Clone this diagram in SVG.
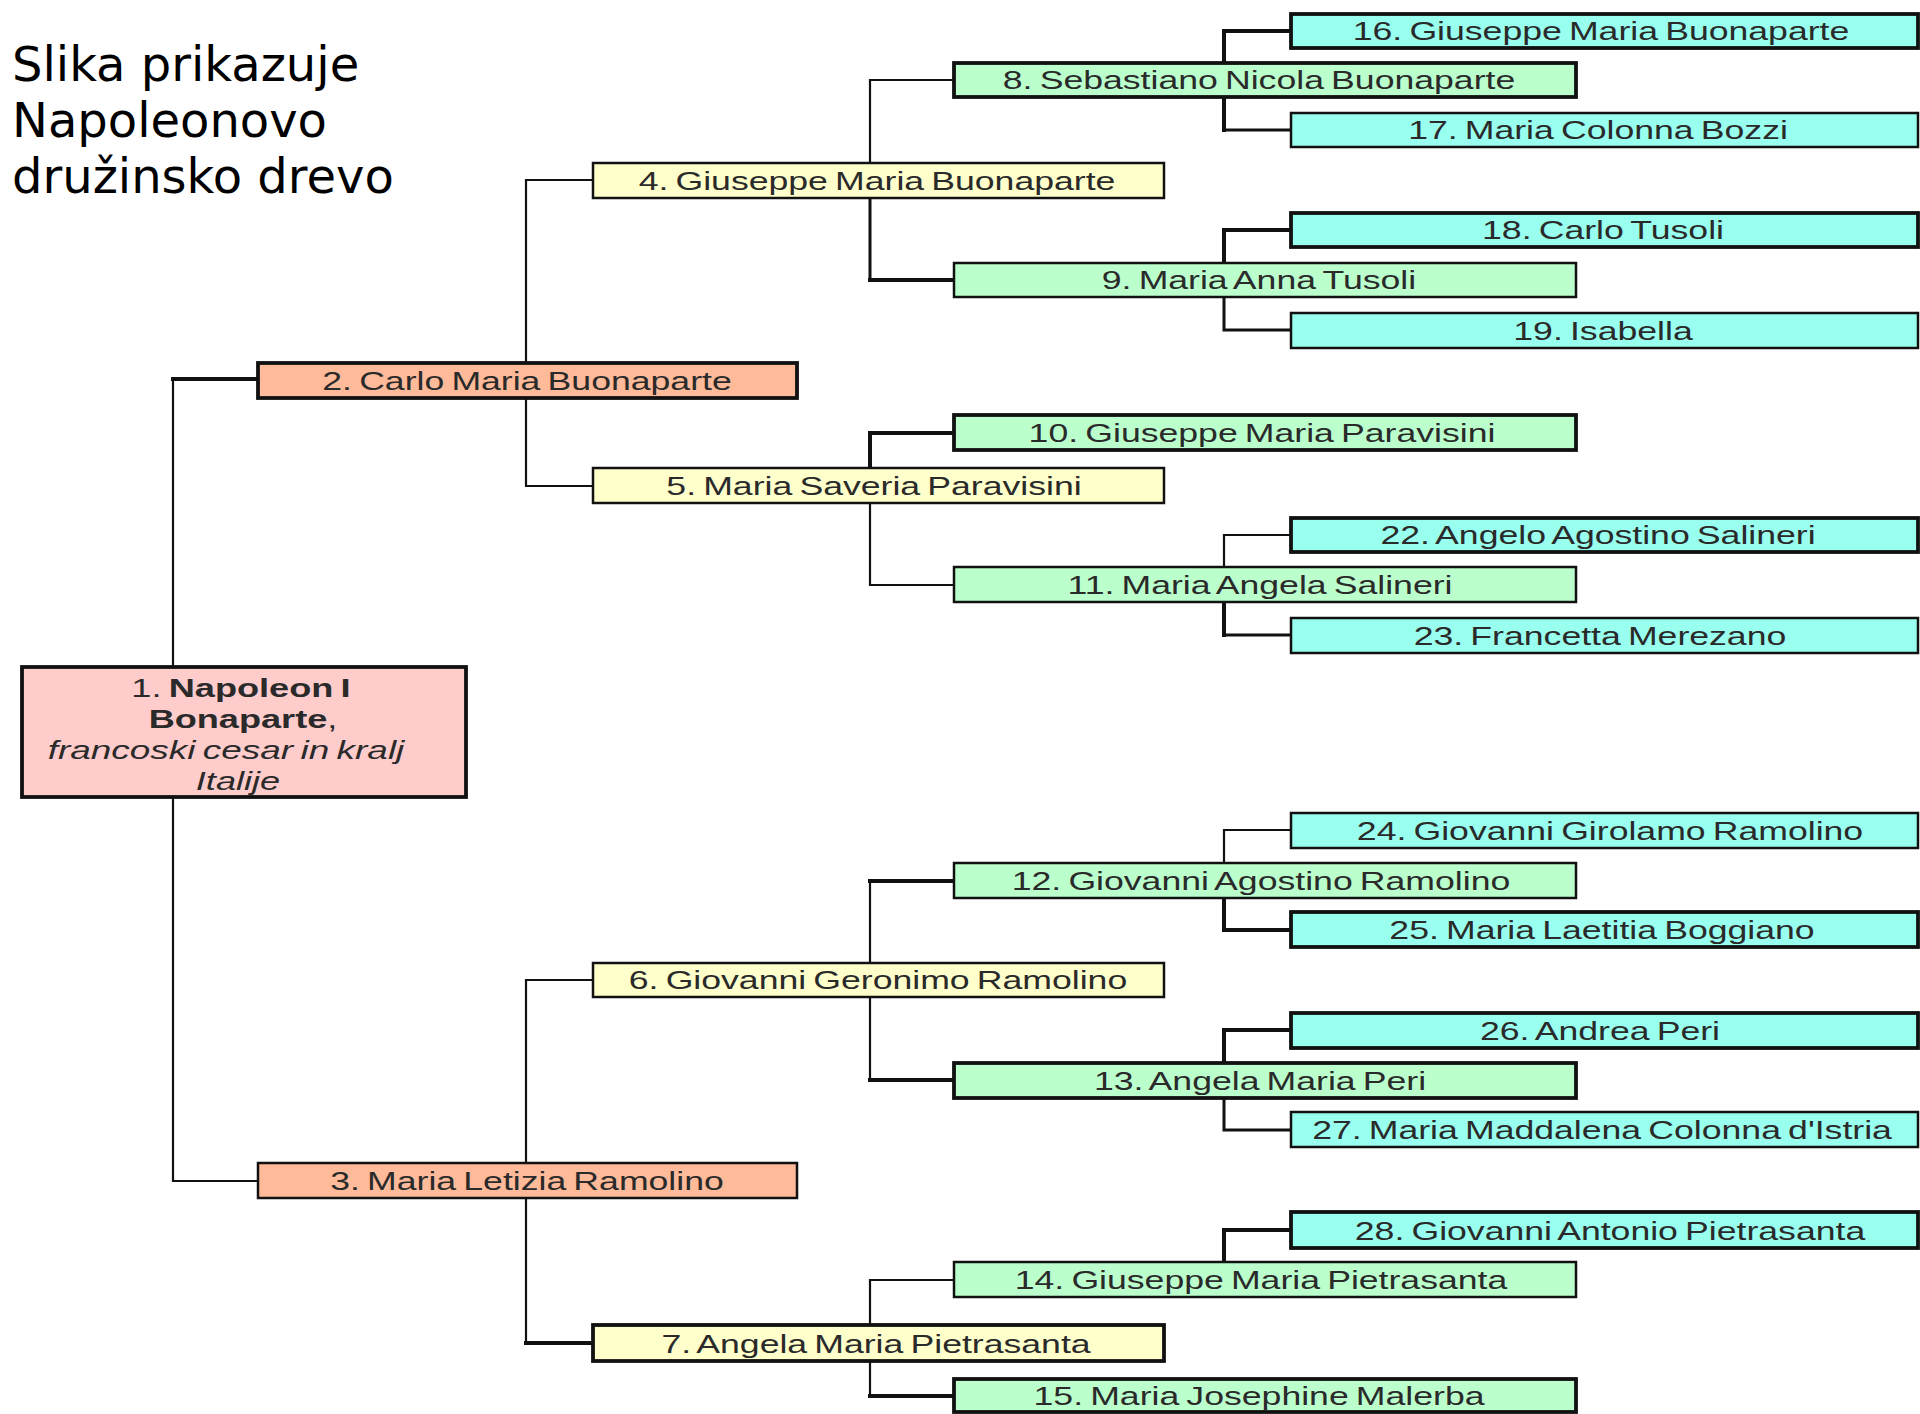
<svg xmlns="http://www.w3.org/2000/svg" width="1920" height="1414" viewBox="0 0 1920 1414">
<style>
.box{stroke:#111;stroke-width:2.5}
.bold{stroke-width:3.8}
.p1{fill:#FFCCCC}
.p2{fill:#FFBA99}
.p3{fill:#FFFFCC}
.p4{fill:#BBFFCC}
.p5{fill:#99FFEE}
.t{font-family:"Liberation Sans",Arial,sans-serif;font-size:26px;fill:#2a2a2a;text-anchor:middle;word-spacing:-2px}
.title{font-family:"DejaVu Sans",sans-serif;font-size:48px;fill:#000}
.c{fill:none;stroke:#111;stroke-width:2.2;stroke-linecap:square}
.ck{fill:none;stroke:#111;stroke-width:4;stroke-linecap:square}
.cm{fill:none;stroke:#111;stroke-width:3;stroke-linecap:square}
</style>
<rect width="1920" height="1414" fill="#fff"/>
<g id="title">
<text class="title" x="12" y="81">Slika prikazuje</text>
<text class="title" x="12" y="137">Napoleonovo</text>
<text class="title" x="12" y="193">družinsko drevo</text>
</g>
<g id="connectors">
<path class="c" d="M173,667 V379"/><path class="ck" d="M173,379 H258"/>
<path class="c" d="M173,797 V1181 H258"/>
<path class="c" d="M526,363 V180 H593"/>
<path class="c" d="M526,398 V486 H593"/>
<path class="c" d="M526,1163 V980 H593"/>
<path class="c" d="M526,1198 V1343"/><path class="ck" d="M526,1343 H593"/>
<path class="c" d="M870,163 V80 H954"/>
<path class="cm" d="M870,197 V280"/><path class="ck" d="M870,280 H954"/>
<path class="ck" d="M870,468 V433 H954"/>
<path class="c" d="M870,503 V585 H954"/>
<path class="c" d="M870,963 V881"/><path class="ck" d="M870,881 H954"/>
<path class="c" d="M870,997 V1080"/><path class="ck" d="M870,1080 H954"/>
<path class="c" d="M870,1325 V1280 H954"/>
<path class="c" d="M870,1361 V1396"/><path class="ck" d="M870,1396 H954"/>
<path class="ck" d="M1224,63 V31 H1291"/>
<path class="ck" d="M1224,97 V130"/><path class="cm" d="M1224,130 H1291"/>
<path class="ck" d="M1224,263 V230 H1291"/>
<path class="cm" d="M1224,297 V330 H1291"/>
<path class="c" d="M1224,567 V535 H1291"/>
<path class="ck" d="M1224,602 V635"/><path class="cm" d="M1224,635 H1291"/>
<path class="c" d="M1224,863 V830 H1291"/>
<path class="ck" d="M1224,898 V930 H1291"/>
<path class="ck" d="M1224,1063 V1030 H1291"/>
<path class="cm" d="M1224,1098 V1130 H1291"/>
<path class="ck" d="M1224,1262 V1230 H1291"/>
</g>
<g id="n1"><rect class="box bold p1" x="22" y="667" width="444" height="130"/>
<text class="t" transform="translate(241 697) scale(1.39 1)">1. <tspan font-weight="bold">Napoleon I</tspan></text>
<text class="t" transform="translate(243 728) scale(1.39 1)"><tspan font-weight="bold">Bonaparte</tspan>,</text>
<text class="t" font-style="italic" transform="translate(226 759) scale(1.42 1)">francoski cesar in kralj</text>
<text class="t" font-style="italic" transform="translate(238 790) scale(1.39 1)">Italije</text></g>
<g id="n2"><rect class="box bold p2" x="258" y="363" width="539" height="35"/><text class="t" transform="translate(527 390) scale(1.37 1)">2. Carlo Maria Buonaparte</text></g>
<g id="n3"><rect class="box p2" x="258" y="1163" width="539" height="35"/><text class="t" transform="translate(527 1190) scale(1.37 1)">3. Maria Letizia Ramolino</text></g>
<g id="n4"><rect class="box p3" x="593" y="163" width="571" height="35"/><text class="t" transform="translate(877 190) scale(1.37 1)">4. Giuseppe Maria Buonaparte</text></g>
<g id="n5"><rect class="box p3" x="593" y="468" width="571" height="35"/><text class="t" transform="translate(874 495) scale(1.37 1)">5. Maria Saveria Paravisini</text></g>
<g id="n6"><rect class="box p3" x="593" y="963" width="571" height="34"/><text class="t" transform="translate(878 989) scale(1.37 1)">6. Giovanni Geronimo Ramolino</text></g>
<g id="n7"><rect class="box bold p3" x="593" y="1325" width="571" height="36"/><text class="t" transform="translate(876 1353) scale(1.37 1)">7. Angela Maria Pietrasanta</text></g>
<g id="n8"><rect class="box bold p4" x="954" y="63" width="622" height="34"/><text class="t" transform="translate(1259 89) scale(1.37 1)">8. Sebastiano Nicola Buonaparte</text></g>
<g id="n9"><rect class="box p4" x="954" y="263" width="622" height="34"/><text class="t" transform="translate(1259 289) scale(1.37 1)">9. Maria Anna Tusoli</text></g>
<g id="n10"><rect class="box bold p4" x="954" y="415" width="622" height="35"/><text class="t" transform="translate(1262 442) scale(1.37 1)">10. Giuseppe Maria Paravisini</text></g>
<g id="n11"><rect class="box p4" x="954" y="567" width="622" height="35"/><text class="t" transform="translate(1260 594) scale(1.37 1)">11. Maria Angela Salineri</text></g>
<g id="n12"><rect class="box p4" x="954" y="863" width="622" height="35"/><text class="t" transform="translate(1261 890) scale(1.37 1)">12. Giovanni Agostino Ramolino</text></g>
<g id="n13"><rect class="box bold p4" x="954" y="1063" width="622" height="35"/><text class="t" transform="translate(1260 1090) scale(1.37 1)">13. Angela Maria Peri</text></g>
<g id="n14"><rect class="box p4" x="954" y="1262" width="622" height="35"/><text class="t" transform="translate(1261 1289) scale(1.37 1)">14. Giuseppe Maria Pietrasanta</text></g>
<g id="n15"><rect class="box bold p4" x="954" y="1379" width="622" height="33"/><text class="t" transform="translate(1259 1405) scale(1.37 1)">15. Maria Josephine Malerba</text></g>
<g id="n16"><rect class="box bold p5" x="1291" y="14" width="627" height="34"/><text class="t" transform="translate(1601 40) scale(1.37 1)">16. Giuseppe Maria Buonaparte</text></g>
<g id="n17"><rect class="box p5" x="1291" y="113" width="627" height="34"/><text class="t" transform="translate(1598 139) scale(1.37 1)">17. Maria Colonna Bozzi</text></g>
<g id="n18"><rect class="box bold p5" x="1291" y="213" width="627" height="34"/><text class="t" transform="translate(1603 239) scale(1.37 1)">18. Carlo Tusoli</text></g>
<g id="n19"><rect class="box p5" x="1291" y="313" width="627" height="35"/><text class="t" transform="translate(1603 340) scale(1.37 1)">19. Isabella</text></g>
<g id="n22"><rect class="box bold p5" x="1291" y="518" width="627" height="34"/><text class="t" transform="translate(1598 544) scale(1.37 1)">22. Angelo Agostino Salineri</text></g>
<g id="n23"><rect class="box p5" x="1291" y="618" width="627" height="35"/><text class="t" transform="translate(1600 645) scale(1.37 1)">23. Francetta Merezano</text></g>
<g id="n24"><rect class="box p5" x="1291" y="813" width="627" height="35"/><text class="t" transform="translate(1610 840) scale(1.37 1)">24. Giovanni Girolamo Ramolino</text></g>
<g id="n25"><rect class="box bold p5" x="1291" y="912" width="627" height="35"/><text class="t" transform="translate(1602 939) scale(1.37 1)">25. Maria Laetitia Boggiano</text></g>
<g id="n26"><rect class="box bold p5" x="1291" y="1013" width="627" height="35"/><text class="t" transform="translate(1600 1040) scale(1.37 1)">26. Andrea Peri</text></g>
<g id="n27"><rect class="box p5" x="1291" y="1112" width="627" height="35"/><text class="t" transform="translate(1602 1139) scale(1.37 1)">27. Maria Maddalena Colonna d'Istria</text></g>
<g id="n28"><rect class="box bold p5" x="1291" y="1212" width="627" height="36"/><text class="t" transform="translate(1610 1240) scale(1.37 1)">28. Giovanni Antonio Pietrasanta</text></g>
</svg>
